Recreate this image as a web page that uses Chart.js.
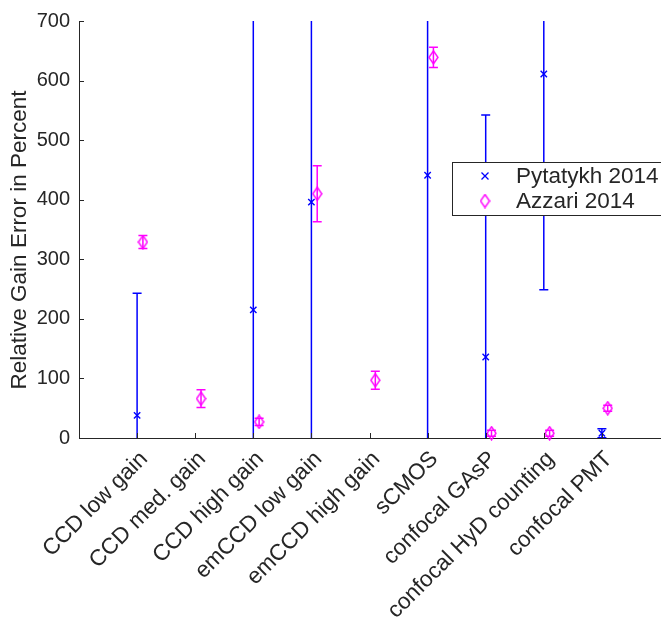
<!DOCTYPE html>
<html lang="en">
<head>
<meta charset="UTF-8">
<title>Relative Gain Error</title>
<script src="https://cdn.jsdelivr.net/npm/chart.js"></script>
<style>
  html, body { margin: 0; padding: 0; background: #ffffff; overflow: hidden; }
  /* canvas is a little wider than the page so the x axis runs to the right edge */
  #wrap { width: 661px; height: 621px; overflow: hidden; }
</style>
</head>
<body>
<div id="wrap"><canvas id="gainChart" width="667" height="621"></canvas></div>
<script>
// detectors on the x axis, placed at 1..9
const cameras = ['CCD low gain', 'CCD med. gain', 'CCD high gain', 'emCCD low gain',
  'emCCD high gain', 'sCMOS', 'confocal GAsP', 'confocal HyD counting', 'confocal PMT'];

// Pytatykh 2014: gain error and its +/- spread (null = not measured)
const pytatykhGain = [38, null, 215, 396, null, 441, 136, 611, 8];
const pytatykhErr = [205, null, 700, 700, null, 700, 406, 362, 7.5];

// Azzari 2014
const azzariGain = [329, 66, 27, 410, 97, 639, 8, 8, 50];
const azzariErr = [11, 15, 6, 47, 15, 17, 5, 5, 5];

const yTicks = [0, 100, 200, 300, 400, 500, 600, 700];
const yTitle = 'Relative Gain Error in Percent';
const azzariShift = 0.1;   // azzari points sit a bit right of each tick

const BLUE = '#0000ff';
const MAGENTA = '#ff00ff';
const AXIS = '#262626';
const FONT = "'Liberation Sans', Arial, sans-serif";

// tall open diamond used as the Azzari marker
function makeDiamond() {
  const c = document.createElement('canvas');
  c.width = 11; c.height = 15;
  const g = c.getContext('2d');
  g.strokeStyle = MAGENTA;
  g.lineWidth = 1.4;
  g.beginPath();
  g.moveTo(5.5, 1); g.lineTo(10, 7.5); g.lineTo(5.5, 14); g.lineTo(1, 7.5);
  g.closePath();
  g.stroke();
  return c;
}
const diamond = makeDiamond();

function toPoints(vals, errs, shift) {
  const pts = [];
  vals.forEach((v, i) => {
    if (v !== null) pts.push({ x: i + 1 + shift, y: v, err: errs[i] });
  });
  return pts;
}

// vertical error bars with caps, clipped to the plot box
const errorBars = {
  id: 'errorBars',
  beforeDatasetsDraw(chart) {
    const { ctx, chartArea, scales } = chart;
    ctx.save();
    ctx.beginPath();
    ctx.rect(chartArea.left, chartArea.top, chartArea.right - chartArea.left, chartArea.bottom - chartArea.top);
    ctx.clip();
    chart.data.datasets.forEach(ds => {
      ctx.strokeStyle = ds.borderColor;
      ctx.lineWidth = 1.5;
      ds.data.forEach(raw => {
        const x = scales.x.getPixelForValue(raw.x);
        const yHi = scales.y.getPixelForValue(raw.y + raw.err);
        const yLo = scales.y.getPixelForValue(raw.y - raw.err);
        const cap = ds.capHalf;
        ctx.beginPath();
        ctx.moveTo(x, yHi); ctx.lineTo(x, yLo);
        ctx.moveTo(x - cap, yHi); ctx.lineTo(x + cap, yHi);
        ctx.moveTo(x - cap, yLo); ctx.lineTo(x + cap, yLo);
        ctx.stroke();
      });
    });
    ctx.restore();
  }
};

// inward tick marks on both axes, plus the rotated y title
const innerTicks = {
  id: 'innerTicks',
  afterDatasetsDraw(chart) {
    const { ctx, chartArea, scales } = chart;
    ctx.save();
    ctx.strokeStyle = AXIS;
    ctx.lineWidth = 1;
    ctx.beginPath();
    yTicks.forEach(t => {
      const y = Math.round(scales.y.getPixelForValue(t)) + 0.5;
      ctx.moveTo(chartArea.left, y); ctx.lineTo(chartArea.left + 5, y);
    });
    cameras.forEach((c, i) => {
      const x = Math.round(scales.x.getPixelForValue(i + 1)) + 0.5;
      ctx.moveTo(x, chartArea.bottom); ctx.lineTo(x, chartArea.bottom - 5);
    });
    ctx.stroke();

    ctx.translate(20, 240);
    ctx.rotate(-Math.PI / 2);
    ctx.font = '22.5px ' + FONT;
    ctx.fillStyle = AXIS;
    ctx.textAlign = 'center';
    ctx.textBaseline = 'middle';
    ctx.fillText(yTitle, 0, 0);
    ctx.restore();
  }
};

// boxed legend inside the plot, right side
const boxLegend = {
  id: 'boxLegend',
  afterDraw(chart) {
    const { ctx } = chart;
    const left = 452, top = 162, w = 220, h = 53;
    ctx.save();
    ctx.fillStyle = '#ffffff';
    ctx.fillRect(left, top, w, h);
    ctx.strokeStyle = AXIS;
    ctx.lineWidth = 1;
    ctx.strokeRect(left + 0.5, top + 0.5, w, h);
    ctx.font = '22.5px ' + FONT;
    ctx.fillStyle = AXIS;
    ctx.textBaseline = 'middle';
    chart.data.datasets.forEach((ds, i) => {
      const y = top + 14 + i * 25;
      const mx = 485;
      if (ds.pointStyle === 'crossRot') {
        ctx.strokeStyle = BLUE;
        ctx.lineWidth = 1.3;
        ctx.beginPath();
        ctx.moveTo(mx - 3.5, y - 3.5); ctx.lineTo(mx + 3.5, y + 3.5);
        ctx.moveTo(mx + 3.5, y - 3.5); ctx.lineTo(mx - 3.5, y + 3.5);
        ctx.stroke();
      } else {
        ctx.drawImage(diamond, mx - diamond.width / 2, y - diamond.height / 2);
      }
      ctx.fillText(ds.label, 516, y + 1);
    });
    ctx.restore();
  }
};

new Chart(document.getElementById('gainChart'), {
  type: 'scatter',
  data: {
    datasets: [{
      label: 'Pytatykh 2014',
      data: toPoints(pytatykhGain, pytatykhErr, 0),
      borderColor: BLUE,
      backgroundColor: BLUE,
      pointStyle: 'crossRot',
      pointRadius: 4.5,
      borderWidth: 1.4,
      capHalf: 4.5
    }, {
      label: 'Azzari 2014',
      data: toPoints(azzariGain, azzariErr, azzariShift),
      borderColor: MAGENTA,
      backgroundColor: MAGENTA,
      pointStyle: diamond,
      pointRadius: 6,
      capHalf: 4.5
    }]
  },
  options: {
    responsive: false,
    animation: false,
    clip: false,
    layout: { padding: { top: 21, right: 0, left: 0, bottom: 0 } },
    plugins: { legend: { display: false }, tooltip: { enabled: false } },
    scales: {
      x: {
        type: 'linear',
        min: 0,
        max: 10,
        afterBuildTicks: s => { s.ticks = cameras.map((c, i) => ({ value: i + 1 })); },
        afterFit: s => { s.height = 183; },
        grid: { display: true, drawOnChartArea: false, drawTicks: false },
        border: { display: true, color: AXIS, width: 1 },
        ticks: {
          autoSkip: false,
          minRotation: 45,
          maxRotation: 45,
          padding: 8,
          labelOffset: 7,
          color: AXIS,
          font: { family: FONT, size: 22.5 },
          callback: v => cameras[Math.round(v) - 1] || ''
        }
      },
      y: {
        min: 0,
        max: 700,
        afterBuildTicks: s => { s.ticks = yTicks.map(v => ({ value: v })); },
        afterFit: s => { s.width = 79; },
        grid: { display: true, drawOnChartArea: false, drawTicks: false },
        border: { display: true, color: AXIS, width: 1 },
        ticks: {
          padding: 9,
          color: AXIS,
          font: { family: FONT, size: 20 }
        }
      }
    }
  },
  plugins: [errorBars, innerTicks, boxLegend]
});
</script>
</body>
</html>
